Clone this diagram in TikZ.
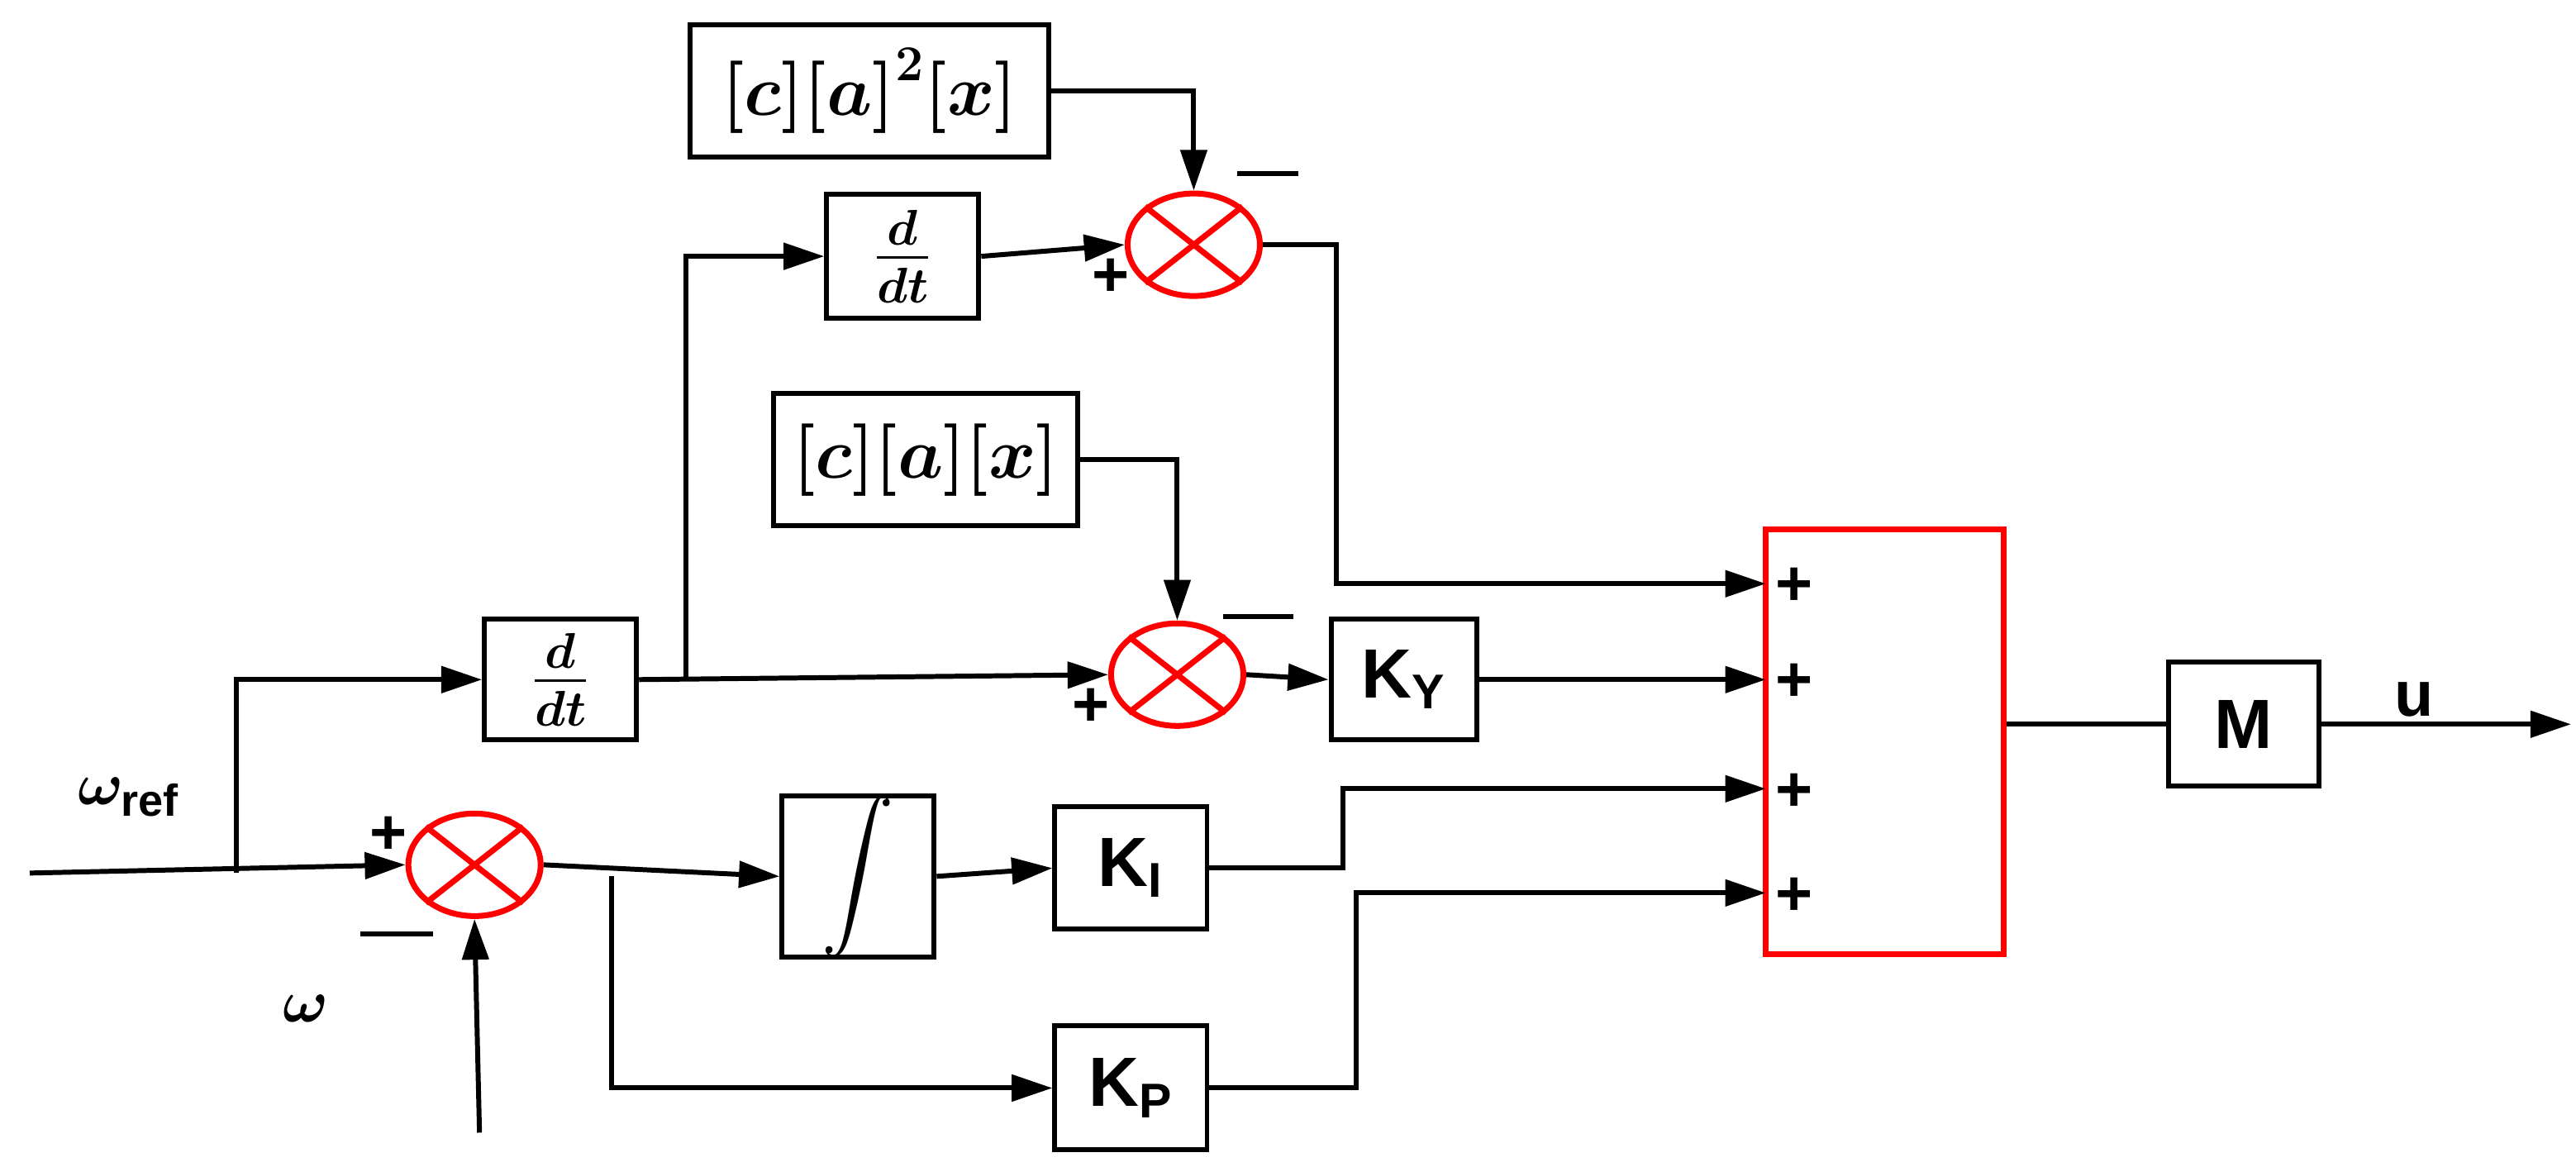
\documentclass[tikz,border=0pt]{standalone}
\usepackage{fontspec}
\usepackage{amsmath,bm}
\setmainfont{Liberation Sans}
\usetikzlibrary{shapes.geometric,arrows.meta}
\begin{document}
\begin{tikzpicture}[x=0.02cm,y=-0.02cm,
  line width=1.7pt,
  >={Triangle[length=14pt,width=9pt]},
  blk/.style={draw,line width=1.7pt,inner sep=0pt,font=\fontsize{24}{28}\selectfont\bfseries},
  sum/.style={ellipse,draw=red,line width=2pt,minimum width=80*0.02cm,minimum height=62*0.02cm,inner sep=0pt},
  lab/.style={font=\fontsize{22}{26}\selectfont\bfseries}]
\useasboundingbox (0,0) rectangle (1558,705.5);
% blocks
\node[blk,minimum width=217*0.02cm,minimum height=80*0.02cm] (ca2x) at (526,55) {$\bm{[c][a]^2[x]}$};
\node[blk,minimum width=92*0.02cm,minimum height=75*0.02cm] (dt1) at (546,155) {$\bm{\frac{d}{dt}}$};
\node[blk,minimum width=184*0.02cm,minimum height=80*0.02cm] (cax) at (560,278) {$\bm{[c][a][x]}$};
\node[blk,minimum width=92*0.02cm,minimum height=73*0.02cm] (dt2) at (339,411) {$\bm{\frac{d}{dt}}$};
\node[blk,minimum width=88*0.02cm,minimum height=73*0.02cm] (ky) at (849,411) {K\textsubscript{Y}};
\node[blk,minimum width=92*0.02cm,minimum height=75*0.02cm] (int) at (519,530) {$\displaystyle\int$};
\node[blk,minimum width=92*0.02cm,minimum height=74*0.02cm] (ki) at (684,525) {K\textsubscript{I}};
\node[blk,minimum width=92*0.02cm,minimum height=75*0.02cm] (kp) at (684,658) {K\textsubscript{P}};
\node[blk,minimum width=91*0.02cm,minimum height=75*0.02cm] (m) at (1357,438) {M};
\node[draw=red,line width=2pt,minimum width=144*0.02cm,minimum height=257*0.02cm] (big) at (1140,448.5) {};
% sums
\foreach \n/\p in {s1/{(722,148)},s2/{(712,408)},s3/{(287,523)}}{
  \node[sum] (\n) at \p {};
  \draw[red,line width=2pt] (\n.north east)--(\n.south west) (\n.north west)--(\n.south east);
}
% coordinates
\coordinate (in) at (18,528);
\coordinate (b1) at (143,528);
\coordinate (b2) at (415,411);
\coordinate (b3) at (370,530);
\coordinate (wi) at (290,685);
\coordinate (out) at (1555,438);
% connectors
\draw[->] (in) -- (s3.west);
\draw[->] (b1) |- (dt2.west);
\draw[->] (wi) -- (s3.south);
\draw[->] (dt2.east) -- (s2.west);
\draw[->] (b2) |- (dt1.west);
\draw[->] (dt1.east) -- (s1.west);
\draw[->] (ca2x.east) -| (s1.north);
\draw[->] (cax.east) -| (s2.north);
\draw[->] (s1.east) -- (808,148) |- (1068,353);
\draw[->] (s2.east) -- (ky.west);
\draw[->] (ky.east) -- (1068,411);
\draw[->] (ki.east) -- (812,525) |- (1068,477);
\draw[->] (kp.east) -- (820,658) |- (1068,540);
\draw[->] (s3.east) -- (int.west);
\draw[->] (b3) |- (kp.west);
\draw[->] (int.east) -- (ki.west);
\draw (big.east |- m) -- (m.west);
\draw[->] (m.east) -- (out);
% labels
\node[lab] at (1085,355) {+};
\node[lab] at (1085,413) {+};
\node[lab] at (1085,479) {+};
\node[lab] at (1085,542) {+};
\node[lab] at (672,168) {+};
\node[lab] at (660,428) {+};
\node[lab] at (235,505) {+};
\draw (748,105) -- (785,105);
\draw (740,373) -- (782,373);
\draw (218,565) -- (262,565);
\node[lab] at (1460,423) {u};
\node[font=\fontsize{22}{26}\selectfont\bfseries] at (78,482) {$\bm{\omega}_{\mathbf{ref}}$};
\node[font=\fontsize{22}{26}\selectfont\bfseries] at (185,610) {$\bm{\omega}$};
\end{tikzpicture}
\end{document}
